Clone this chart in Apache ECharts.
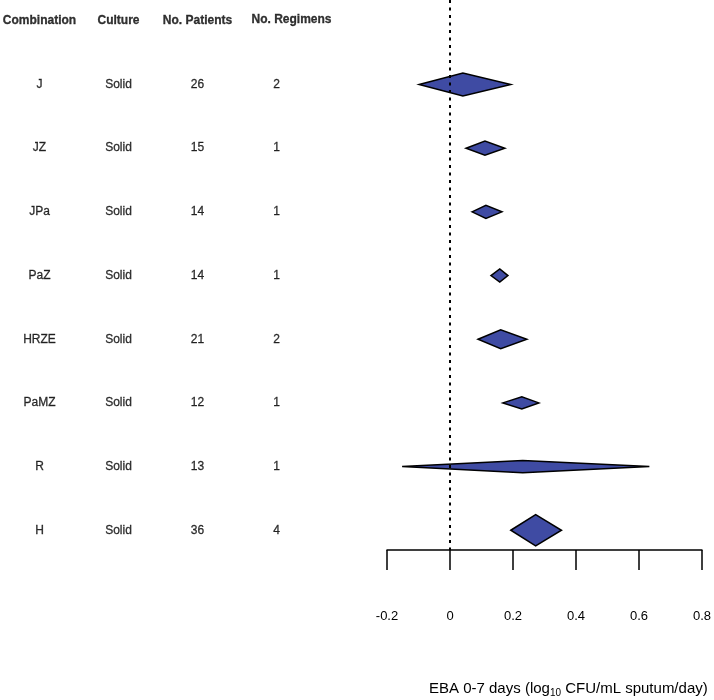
<!DOCTYPE html>
<html><head><meta charset="utf-8">
<script src="https://cdn.jsdelivr.net/npm/echarts@6/dist/echarts.min.js"></script>
<style>html,body{margin:0;padding:0;background:#fff}#c{width:714px;height:700px}</style>
</head><body><div id="c"></div>
<script>
const headers = ['Combination', 'Culture', 'No. Patients', 'No. Regimens'];
const combinations = ['J', 'JZ', 'JPa', 'PaZ', 'HRZE', 'PaMZ', 'R', 'H'];
const cultures = ['Solid', 'Solid', 'Solid', 'Solid', 'Solid', 'Solid', 'Solid', 'Solid'];
const patients = [26, 15, 14, 14, 21, 12, 13, 36];
const regimens = [2, 1, 1, 1, 2, 1, 1, 4];
const estimates = [0.041, 0.111, 0.114, 0.158, 0.161, 0.228, 0.231, 0.272];
const lower = [-0.098, 0.051, 0.070, 0.130, 0.089, 0.168, -0.152, 0.193];
const upper = [0.193, 0.174, 0.165, 0.184, 0.244, 0.282, 0.633, 0.354];
const weights = [0.74, 0.45, 0.42, 0.42, 0.61, 0.39, 0.39, 1.0];
const xTicks = [-0.2, 0, 0.2, 0.4, 0.6, 0.8];

const FONT = '"Liberation Sans", Arial, sans-serif';
const chart = echarts.init(document.getElementById('c'), null, {renderer: 'canvas'});

const tableData = [];
headers.forEach((h, c) => tableData.push({value: [c, 0, h], header: true}));
combinations.forEach((name, i) => {
  const row = [name, cultures[i], String(patients[i]), String(regimens[i])];
  row.forEach((t, c) => tableData.push({value: [c, i + 1, t]}));
});

const diamondData = estimates.map((e, i) => [e, i + 1, lower[i], upper[i], weights[i]]);

const yCommon = {type: 'value', inverse: true, min: -0.327, max: 8.31, show: false};

chart.setOption({
  animation: false,
  backgroundColor: '#fff',
  textStyle: {fontFamily: FONT},
  title: {
    left: 424, top: 675,
    text: '{a|EBA 0-7 days (log}{s|10}{a| CFU/mL sputum/day)}',
    textStyle: {
      rich: {
        a: {fontFamily: FONT, fontSize: 15, color: '#000', fontWeight: 'normal'},
        s: {fontFamily: FONT, fontSize: 10, color: '#000', verticalAlign: 'bottom', padding: [8, 0, 0, 0], fontWeight: 'normal'}
      }
    }
  },
  grid: [
    {left: 0, top: 0, width: 316, height: 550},
    {left: 387, right: 11, top: 0, height: 550}
  ],
  xAxis: [
    {gridIndex: 0, type: 'category', data: headers, show: false, boundaryGap: true},
    {
      gridIndex: 1, type: 'value', position: 'bottom',
      min: xTicks[0], max: xTicks[xTicks.length - 1], interval: xTicks[1] - xTicks[0],
      axisLine: {show: true, onZero: false, lineStyle: {color: '#000', width: 1.5}},
      axisTick: {show: true, length: 20, lineStyle: {color: '#000', width: 1.5}},
      axisLabel: {color: '#000', fontSize: 13, fontFamily: FONT, margin: 60},
      splitLine: {show: false}
    }
  ],
  yAxis: [Object.assign({gridIndex: 0}, yCommon), Object.assign({gridIndex: 1}, yCommon)],
  series: [
    {
      type: 'scatter', xAxisIndex: 0, yAxisIndex: 0, symbolSize: 0, silent: true,
      data: tableData.map(d => ({
        value: d.value,
        label: d.header ? {
          fontWeight: 'bold', color: '#000',
          offset: d.value[0] === 3 ? [15, -1] : [0, 0]
        } : {color: '#000'}
      })),
      label: {
        show: true, position: 'inside', color: '#000', fontSize: 12, fontFamily: FONT,
        textBorderColor: '#000', textBorderWidth: 0.3,
        formatter: p => p.value[2]
      }
    },
    {
      type: 'custom', xAxisIndex: 1, yAxisIndex: 1, silent: true,
      data: diamondData,
      encode: {x: [0, 2, 3], y: 1},
      renderItem: function (params, api) {
        const y = api.value(1);
        const c = api.coord([api.value(0), y]);
        const l = api.coord([api.value(2), y]);
        const r = api.coord([api.value(3), y]);
        const hh = Math.abs(api.size([0, api.value(4) * 0.245])[1]);
        return {
          type: 'polygon',
          shape: {points: [[l[0], c[1]], [c[0], c[1] - hh], [r[0], c[1]], [c[0], c[1] + hh]]},
          style: {fill: '#3F4BA3', stroke: '#000', lineWidth: 1.5}
        };
      },
      markLine: {
        silent: true, symbol: 'none', label: {show: false},
        lineStyle: {type: [3, 4.5], color: '#000', width: 2},
        data: [{xAxis: 0}]
      },
      z: 3
    }
  ]
});
</script>
</body></html>
